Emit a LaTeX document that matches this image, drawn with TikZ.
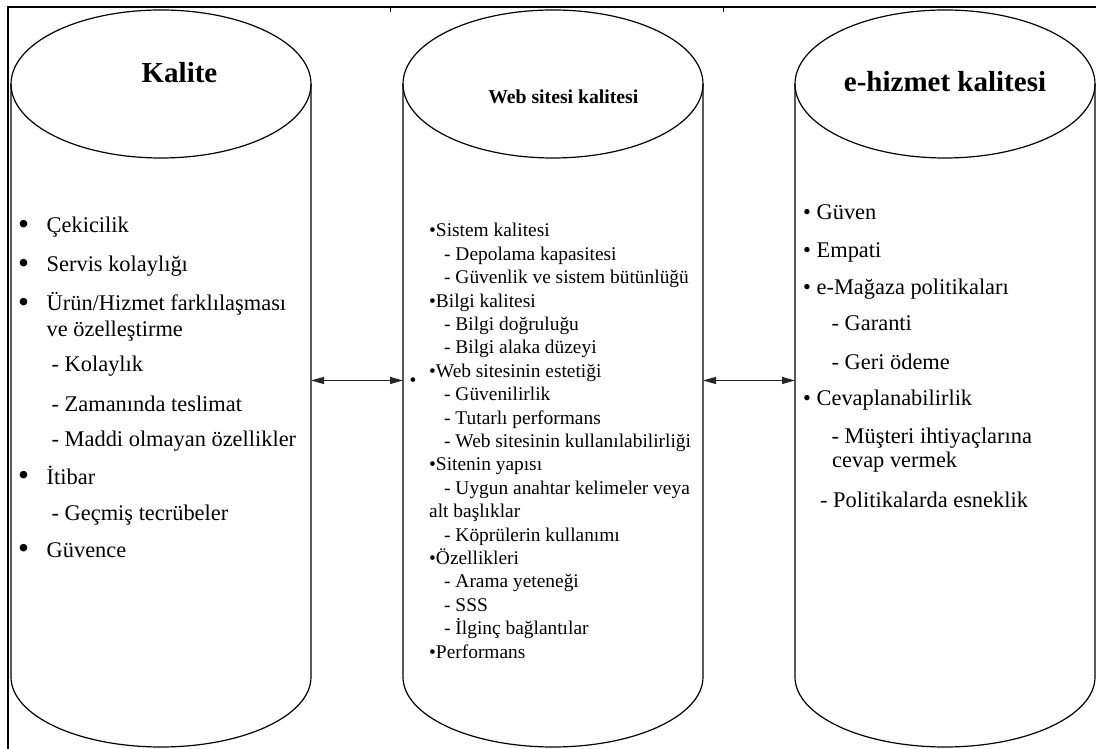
\documentclass[tikz,border=0pt]{standalone}
\usepackage{fontspec}
\usepackage{graphicx}
\setmainfont{Liberation Serif}
\usetikzlibrary{arrows.meta}
% list helpers
\newcommand\bigbul{\makebox[28.5pt][l]{\raisebox{-1.5pt}{\scalebox{1.4}{•}}}}
\newcommand\subind{\hspace*{15pt}}
\newcommand\bodyfont{\fontsize{22.4}{26}\selectfont}
\newcommand\midfont{\fontsize{19.4}{23.4}\selectfont}
\begin{document}
\begin{tikzpicture}[x=1pt,y=1pt,
  cylline/.style={line width=1.2pt, black},
  body/.style={minimum width=300pt, minimum height=593pt, inner sep=0pt, outer sep=0pt},
  title/.style={anchor=base, inner sep=0pt, font=\fontsize{29}{34}\selectfont\bfseries},
  list/.style={anchor=base west, inner sep=0pt},
  link/.style={line width=1.2pt, black!85,
    {Triangle[length=13pt,width=7pt]}-{Triangle[length=13pt,width=7pt]}}
]
\useasboundingbox (0,0) rectangle (1096,749);

% outer frame (top and left edges)
\draw[line width=2.4pt] (8,0) -- (8,742) -- (1096,742);
\draw[line width=0.8pt] (390,741) -- (390,737);
\draw[line width=0.8pt] (723,741) -- (723,737);

% cylinder bodies
\node[body] (kal)  at (161,368.5) {};
\node[body] (web)  at (553,368.5) {};
\node[body] (ehiz) at (945,368.5) {};

\foreach \c in {kal,web,ehiz} {
  \draw[cylline] (\c.north west) -- (\c.south west)
    arc[start angle=180, end angle=360, x radius=150pt, y radius=70pt]
    -- (\c.north east);
  \draw[cylline] (\c.north) ellipse[x radius=150pt, y radius=74pt];
}

% titles
\node[title] (kal-t) at (179.5,666.5) {Kalite};
\node[title, font=\fontsize{19.7}{23}\selectfont\bfseries] (web-t) at (563.3,645.5) {Web sitesi kalitesi};
\node[title] (ehiz-t) at (945,657.5) {e-hizmet kalitesi};

% left list
\node[list, font=\bodyfont] (kal-l) at (18,516) {%
\begin{tabular}[t]{@{}l@{}}
\bigbul Çekicilik\\[13pt]
\bigbul Servis kolaylığı\\[13pt]
\bigbul Ürün/Hizmet farklılaşması\\
\hspace*{28.5pt}ve özelleştirme\\[9pt]
\hspace*{33.5pt}- Kolaylık\\[14pt]
\hspace*{33.5pt}- Zamanında teslimat\\[9pt]
\hspace*{33.5pt}- Maddi olmayan özellikler\\[11pt]
\bigbul İtibar\\[10pt]
\hspace*{33.5pt}- Geçmiş tecrübeler\\[11pt]
\bigbul Güvence
\end{tabular}};

% middle list
\node[list, font=\midfont] (web-l) at (429,512) {%
\begin{tabular}[t]{@{}l@{}}
•Sistem kalitesi\\
\subind- Depolama kapasitesi\\
\subind- Güvenlik ve sistem bütünlüğü\\
•Bilgi kalitesi\\
\subind- Bilgi doğruluğu\\
\subind- Bilgi alaka düzeyi\\
•Web sitesinin estetiği\\
\subind- Güvenilirlik\\
\subind- Tutarlı performans\\
\subind- Web sitesinin kullanılabilirliği\\
•Sitenin yapısı\\
\subind- Uygun anahtar kelimeler veya\\
alt başlıklar\\
\subind- Köprülerin kullanımı\\
•Özellikleri\\
\subind- Arama yeteneği\\
\subind- SSS\\
\subind- İlginç bağlantılar\\
•Performans
\end{tabular}};
\node[list, font=\midfont] (web-dot) at (409.5,362) {•};

% right list
\node[list, font=\bodyfont] (ehiz-l) at (803,529.5) {%
\begin{tabular}[t]{@{}l@{}}
• Güven\\[12pt]
• Empati\\[10.7pt]
• e-Mağaza politikaları\\[10.6pt]
\hspace*{28.5pt}- Garanti\\[12.4pt]
\hspace*{28.5pt}- Geri ödeme\\[10pt]
• Cevaplanabilirlik\\[12pt]
\hspace*{28.5pt}- Müşteri ihtiyaçlarına\\[-2pt]
\hspace*{29pt}cevap vermek\\[14pt]
\hspace*{17pt}- Politikalarda esneklik
\end{tabular}};

% links between the three cylinders
\draw[link] (kal.east) -- (web.west);
\draw[link] (web.east) -- (ehiz.west);
\end{tikzpicture}
\end{document}
